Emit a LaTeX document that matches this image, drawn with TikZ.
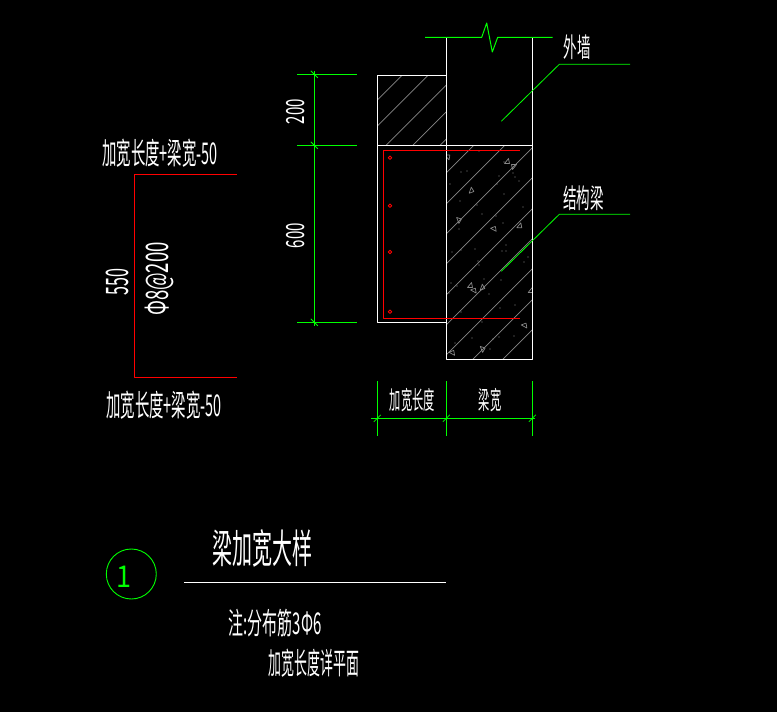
\documentclass[tikz,border=0pt]{standalone}
\usepackage{fontspec}
\newfontfamily\cadfont{Noto Sans CJK SC}
\definecolor{cadgreen}{RGB}{0,255,0}
\definecolor{cadred}{RGB}{255,0,0}
\definecolor{cadgray}{RGB}{135,135,135}
\tikzset{
	wall/.style={white,line width=1pt},
	rebar/.style={cadred,line width=1pt},
	dimline/.style={cadgreen,line width=1pt},
	hatchline/.style={cadgray,line width=.7pt},
	cadtxt/.style={text=white,inner sep=0pt,font=\cadfont\fontsize{#1}{#1}\selectfont},
}
\begin{document}
\begin{tikzpicture}[x=1pt,y=-1pt,line join=round]
	\def\xa{377.3} \def\xb{446.3} \def\xc{532.3}
	\def\ya{75.3} \def\yb{145.3} \def\yc{322.3} \def\yd{359.3}
	\fill[black] (0,0) rectangle (777,712);
	% hatch of the widening and of the beam
	\begin{scope}
		\clip (\xa,\ya) rectangle (\xb,\yb);
		\foreach \s in {477.3,503.3,531.3,558,585.3}
		\draw[hatchline] (\s-300,300)--(\s-50,50);
	\end{scope}
	\begin{scope}
		\clip (\xb,\yb) rectangle (\xc,\yd);
		\foreach \s in {619,650,680,710,741,771,801,832,862}
		\draw[hatchline] (\s-400,400)--(\s-100,100);
		\foreach \a/\b/\r in {447/157/80,507/161/0,514/167/180,470.7/190/20,458/220/60,493.3/229.3/100,519.3/225.3/0,470/285/0,473.3/291/100,481.7/287/20,530.7/290/0,524/326/100,481.7/349/60,451.7/353.3/100}
		\draw[hatchline,rotate around={\r:(\a,\b)}] (\a-2.5,\b+2.5)--(\a+2.5,\b+2.5)--(\a+1.5,\b-2.5)--cycle;
		\foreach \a/\b in {479/151,504/162,515/177,467/171,461/172,513/173,499/176,519/181,450/184,497/184,504/194,460/201,477/205,482/214,496/216,503/223,459/229,475/249,452/252,461/250,478/261,502/251,506/251,506/245,523/207,528/257,524/262,479/265,501/280,451/283,457/286,484/279,489/294,449/293,515/305,500/308,461/312,482/322,472/338,499/337,514/336,493/339,455/343,490/349}
		\fill[cadgray] (\a,\b) circle (.6);
	\end{scope}
	% outlines
	\draw[wall] (\xb,37.3)--(\xb,\yd)--(\xc,\yd)--(\xc,37.3);
	\draw[wall] (\xb,\ya)--(\xa,\ya)--(\xa,\yc)--(\xb,\yc);
	\draw[wall] (\xa,\yb)--(\xc,\yb);
	\draw[dimline] (425,37.3)--(481.7,37.3)--(486.7,23)--(492.3,52)--(497.7,37.3)--(552.7,37.3);
	% rebar in the section
	\draw[rebar] (519.7,150.3)--(383.3,150.3)--(383.3,318.3)--(519.7,318.3);
	\foreach \b in {157.7,205.7,252,311.7}
	\draw[cadred,line width=.9pt] (390,\b) circle (1.7);
	% leaders
	\draw[dimline,line width=.8pt] (501.3,121.3)--(559.3,64.3)--(630,64.3);
	\draw[dimline,line width=.8pt] (501.3,271.3)--(559.3,214.3)--(630,214.3);
	\node[cadtxt=27,xscale=.5] (waitxt) at (577,47) {外墙};
	\node[cadtxt=27,xscale=.5] (beamtxt) at (583.5,198) {结构梁};
	% vertical dimensions
	\draw[dimline] (314.3,71)--(314.3,326);
	\foreach \b in {74.3,145.3,322.3}{
		\draw[dimline] (297.3,\b)--(356.5,\b);
		\draw[dimline,line width=.8pt] (314.3-3.5,\b-3.5)--(314.3+3.5,\b+3.5);
	}
	\node[cadtxt=25,rotate=90,xscale=.6] (dimtop) at (295.7,111.7) {200};
	\node[cadtxt=25,rotate=90,xscale=.6] (dimmid) at (295.7,235.7) {600};
	% horizontal dimensions
	\draw[dimline] (371,418.3)--(535,418.3);
	\foreach \a in {\xa,\xb,\xc}{
		\draw[dimline] (\a,381)--(\a,436);
		\draw[dimline,line width=.8pt] (\a-3.5,418.3+3.5)--(\a+3.5,418.3-3.5);
	}
	\node[cadtxt=25,xscale=.45] (dimwiden) at (412.3,400) {加宽长度};
	\node[cadtxt=25,xscale=.45] (dimbeam) at (490,400) {梁宽};
	% rebar shape on the left
	\draw[rebar] (236.7,174.3)--(134.3,174.3)--(134.3,377.3)--(236.7,377.3);
	\node[cadtxt=30,xscale=.48] (lentop) at (160,153) {加宽长度+梁宽-50};
	\node[cadtxt=30,xscale=.48] (lenbot) at (164,405) {加宽长度+梁宽-50};
	\node[cadtxt=31,rotate=90,xscale=.52] (legdim) at (117.3,281.7) {550};
	\node[cadtxt=31,rotate=90,xscale=.6] (legbar) at (159,279) {Φ8@200};
	% title
	\draw[cadgreen,line width=.9pt] (131.3,574) circle (25);
	\node[text=cadgreen,inner sep=0pt,font=\fontsize{30}{30}\selectfont\cadfont,xscale=.9] (tagnum) at (124,576.5) {1};
	\node[cadtxt=40,xscale=.5] (title) at (262,548) {梁加宽大样};
	\draw[wall] (184,582)--(445.7,582);
	\node[cadtxt=30,xscale=.5] (notea) at (275,623) {注:分布筋3Φ6};
	\node[cadtxt=30,xscale=.43] (noteb) at (314,663) {加宽长度详平面};
\end{tikzpicture}
\end{document}
